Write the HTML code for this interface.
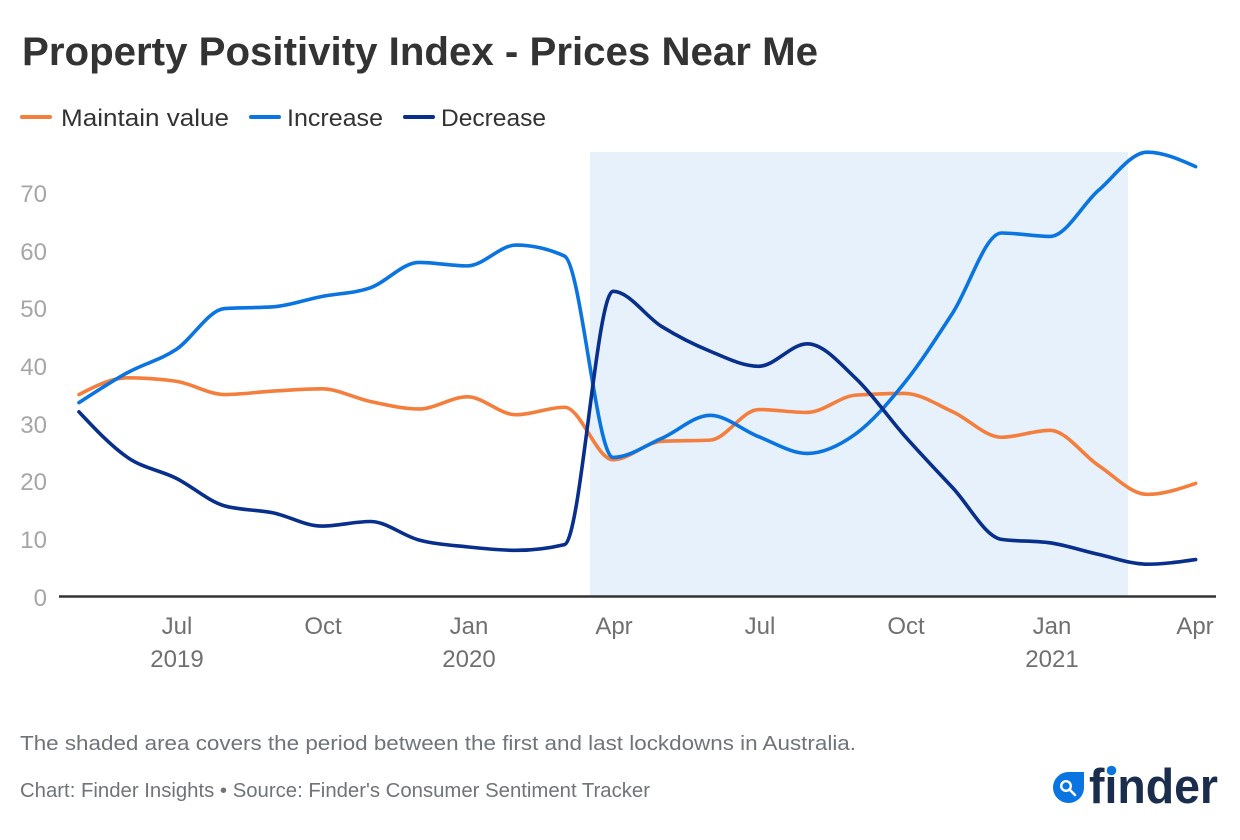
<!DOCTYPE html>
<html><head><meta charset="utf-8"><style>
html,body{margin:0;padding:0;background:#fff;}
svg{display:block;}
text{font-family:"Liberation Sans",sans-serif;}
</style></head><body>
<svg id="c" width="1240" height="840" viewBox="0 0 1240 840" xmlns="http://www.w3.org/2000/svg">
<rect width="1240" height="840" fill="#fff"/>
<text x="22" y="65" font-size="40" font-weight="bold" fill="#333" textLength="796" lengthAdjust="spacingAndGlyphs">Property Positivity Index - Prices Near Me</text>
<g stroke-width="4" stroke-linecap="round">
<line x1="22" y1="117" x2="50" y2="117" stroke="#f47e3c"/>
<line x1="251" y1="117" x2="279" y2="117" stroke="#0a74e0"/>
<line x1="405" y1="117" x2="433" y2="117" stroke="#082f8c"/>
</g>
<g font-size="24" fill="#333">
<text x="61" y="126" textLength="168" lengthAdjust="spacingAndGlyphs">Maintain value</text>
<text x="287" y="126" textLength="96" lengthAdjust="spacingAndGlyphs">Increase</text>
<text x="441" y="126" textLength="105" lengthAdjust="spacingAndGlyphs">Decrease</text>
</g>
<rect x="590" y="152" width="538" height="444" fill="#e7f1fc"/>
<g font-size="24" fill="#a6a6a6" text-anchor="end">
<text x="47" y="606">0</text>
<text x="47" y="548">10</text>
<text x="47" y="490">20</text>
<text x="47" y="433">30</text>
<text x="47" y="375">40</text>
<text x="47" y="317">50</text>
<text x="47" y="260">60</text>
<text x="47" y="202">70</text>
</g>
<g font-size="24" fill="#707070" text-anchor="middle">
<text x="177" y="634">Jul</text>
<text x="177" y="667">2019</text>
<text x="323" y="634">Oct</text>
<text x="469" y="634">Jan</text>
<text x="469" y="667">2020</text>
<text x="614" y="634">Apr</text>
<text x="760" y="634">Jul</text>
<text x="906" y="634">Oct</text>
<text x="1052" y="634">Jan</text>
<text x="1052" y="667">2021</text>
<text x="1195" y="634">Apr</text>
</g>
<line x1="59" y1="596.5" x2="1216" y2="596.5" stroke="#333" stroke-width="2.5"/>
<g fill="none" stroke-width="3.6" stroke-linejoin="round" stroke-linecap="round">
<path id="pM" stroke="#f47e3c"/>
<path id="pI" stroke="#0a74e0"/>
<path id="pD" stroke="#082f8c"/>
</g>
<text x="20" y="750" font-size="20" fill="#6f737a" textLength="836" lengthAdjust="spacingAndGlyphs">The shaded area covers the period between the first and last lockdowns in Australia.</text>
<text x="20" y="797" font-size="20" fill="#6f737a" textLength="630" lengthAdjust="spacingAndGlyphs">Chart: Finder Insights • Source: Finder's Consumer Sentiment Tracker</text>
<path d="M1084,772 L1084,788 A15.5,15.5 0 1 1 1068.5,772 Z" fill="#0a74e0"/>
<circle cx="1066" cy="786" r="4.8" fill="none" stroke="#fff" stroke-width="2.4"/>
<line x1="1069.5" y1="789.5" x2="1075" y2="795" stroke="#fff" stroke-width="2.6" stroke-linecap="round"/>
<text x="1089" y="803" font-size="49" font-weight="bold" fill="#1a2d4c" textLength="129" lengthAdjust="spacingAndGlyphs">finder</text>
<circle cx="1111.5" cy="770.5" r="4.8" fill="#0a74e0"/>
</svg>
<script>
(function(){
var M=[35.0,37.9,37.3,35.0,35.6,36.0,33.8,32.5,34.6,31.5,32.8,23.7,26.9,27.1,32.4,31.9,34.9,35.2,32.0,27.6,28.8,22.7,17.7,19.6];
var I=[33.6,38.8,42.8,49.9,50.2,52.0,53.5,57.9,57.3,60.9,59.0,24.1,27.4,31.4,27.7,24.8,28.2,37.0,49.2,63.0,62.4,70.4,77.0,74.5];
var D=[32.0,24.1,20.5,15.7,14.5,12.2,13.0,9.8,8.6,8.0,9.0,52.9,46.8,42.5,39.9,43.8,37.8,27.9,18.8,9.9,9.3,7.3,5.6,6.4];
function X(i){return 79+48.55*i;}
function Y(v){return 596.5-v*5.77;}
function sign(x){return x<0?-1:1;}
function path(d){
  var n=d.length,xs=[],ys=[],m=[];
  for(var i=0;i<n;i++){xs.push(X(i));ys.push(Y(d[i]));}
  for(var i=1;i<n-1;i++){
    var h0=xs[i]-xs[i-1],h1=xs[i+1]-xs[i];
    var s0=(ys[i]-ys[i-1])/h0,s1=(ys[i+1]-ys[i])/h1;
    var p=(s0*h1+s1*h0)/(h0+h1);
    m[i]=(sign(s0)+sign(s1))*Math.min(Math.abs(s0),Math.abs(s1),0.5*Math.abs(p))||0;
  }
  var h=xs[1]-xs[0];
  m[0]=(3*(ys[1]-ys[0])/h-m[1])/2;
  h=xs[n-1]-xs[n-2];
  m[n-1]=(3*(ys[n-1]-ys[n-2])/h-m[n-2])/2;
  var s="M"+xs[0].toFixed(2)+","+ys[0].toFixed(2);
  for(var i=0;i<n-1;i++){
    var dx=(xs[i+1]-xs[i])/3;
    s+="C"+(xs[i]+dx).toFixed(2)+","+(ys[i]+dx*m[i]).toFixed(2)+" "+(xs[i+1]-dx).toFixed(2)+","+(ys[i+1]-dx*m[i+1]).toFixed(2)+" "+xs[i+1].toFixed(2)+","+ys[i+1].toFixed(2);
  }
  return s;
}
document.getElementById("pM").setAttribute("d",path(M));
document.getElementById("pI").setAttribute("d",path(I));
document.getElementById("pD").setAttribute("d",path(D));
})();
</script>
</body></html>
